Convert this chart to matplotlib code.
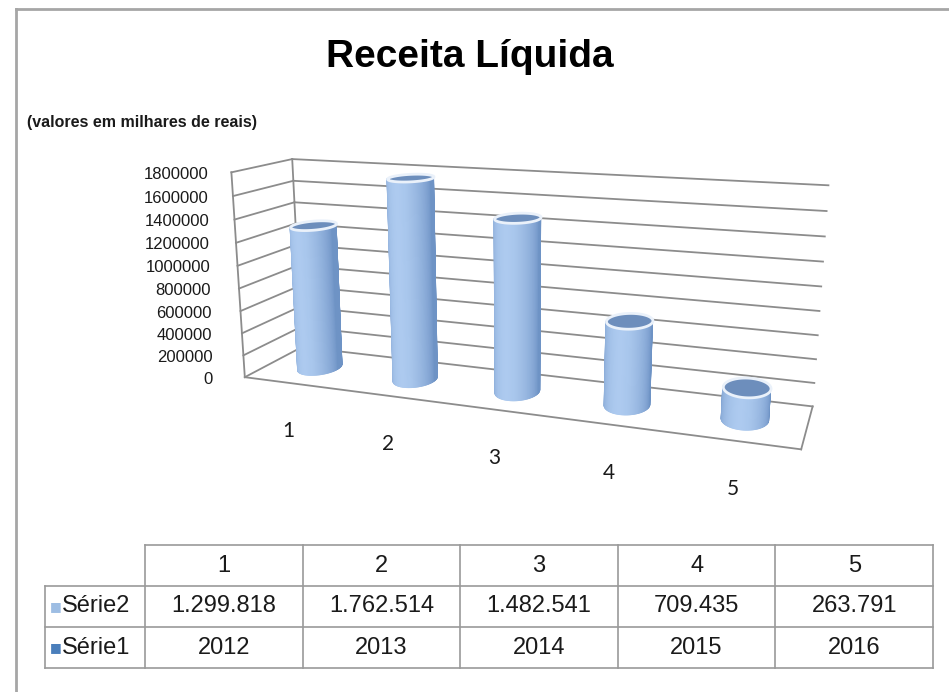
import numpy as np
import matplotlib
matplotlib.use("Agg")
import matplotlib.pyplot as plt
from matplotlib import font_manager
from matplotlib.lines import Line2D
from matplotlib.colors import to_rgb
from mpl_toolkits.mplot3d.art3d import Poly3DCollection
from mpl_toolkits.mplot3d import proj3d

# ---------------- data ----------------
categories = ["1", "2", "3", "4", "5"]
serie2 = [1299818, 1762514, 1482541, 709435, 263791]
serie1 = [2012, 2013, 2014, 2015, 2016]
yticks = [0, 200000, 400000, 600000, 800000, 1000000, 1200000, 1400000, 1600000, 1800000]
title = "Receita Líquida"
subtitle = "(valores em milhares de reais)"

# ---------------- fonts ----------------
names = {f.name for f in font_manager.fontManager.ttflist}
SANS = "Liberation Sans" if "Liberation Sans" in names else "DejaVu Sans"
NARROW = "Liberation Sans Narrow" if "Liberation Sans Narrow" in names else SANS
CAT = "Lato" if "Lato" in names else SANS

W, H = 949, 692
fig = plt.figure(figsize=(W / 100, H / 100), dpi=100)
fig.patch.set_facecolor("white")

# outer frame (left and top edges visible)
frame_c = "#a6a6a6"
fig.add_artist(Line2D([16 / W, 16 / W], [0, 1 - 9 / H], transform=fig.transFigure, color=frame_c, lw=2))
fig.add_artist(Line2D([16 / W, 1], [1 - 9 / H, 1 - 9 / H], transform=fig.transFigure, color=frame_c, lw=2))

fig.text(470 / W, 1 - 67 / H, title, ha="center", va="baseline", fontsize=28,
         fontweight="bold", family=SANS, color="black")
fig.text(27 / W, 1 - 122 / H, subtitle, ha="left", va="center", fontsize=11.5,
         fontweight="bold", family=SANS, color="#1a1a1a")

# ---------------- 3D chart ----------------
S = 700
CX, CY = 508, 297
ax = fig.add_axes([(CX - S / 2) / W, 1 - (CY + S / 2) / H, S / W, S / H], projection="3d")
ax.patch.set_facecolor("none")
ax.set_proj_type("persp", focal_length=0.28)
ELEV, AZIM = 14, -70
ax.view_init(elev=ELEV, azim=AZIM, roll=0)
n = len(categories)
zmax = yticks[-1]
ax.set_xlim(0.5, n + 0.5)
ax.set_ylim(0, 1)
ax.set_zlim(0, zmax)
ax.set_box_aspect((n, 1, 1.9), zoom=0.87)
ax.set_axis_off()
ax.computed_zorder = False

grid_c = "#8c8c8c"
glw = 1.3
x0, x1 = 0.5, n + 0.5
for z in yticks:
    ax.plot([x0, x1], [1, 1], [z, z], color=grid_c, lw=glw, zorder=1)  # back wall
    ax.plot([x0, x0], [0, 1], [z, z], color=grid_c, lw=glw, zorder=1)  # left wall
ax.plot([x0, x0], [1, 1], [0, zmax], color=grid_c, lw=glw, zorder=1)
ax.plot([x0, x0], [0, 0], [0, zmax], color=grid_c, lw=glw, zorder=1)
ax.plot([x0, x1], [0, 0], [0, 0], color=grid_c, lw=glw, zorder=1)
ax.plot([x1, x1], [0, 1], [0, 0], color=grid_c, lw=glw, zorder=1)

M = ax.get_proj()


def proj2d(x, y, z):
    xp, yp, _ = proj3d.proj_transform(np.asarray(x, float), np.asarray(y, float),
                                      np.asarray(z, float), M)
    return xp, yp


# cylinders (only faces turned towards the camera are drawn)
rx, ry = 0.19, 0.25
theta = np.linspace(0, 2 * np.pi, 145)
a = np.deg2rad(AZIM)
d = np.array([np.cos(a), np.sin(a)])
left = np.array([np.sin(a), -np.cos(a)])
light = d + 0.4 * left
light /= np.linalg.norm(light)
dark_c = np.array(to_rgb("#6389be"))
light_c = np.array(to_rgb("#adcaef"))
tm = 0.5 * (theta[:-1] + theta[1:])
nx, ny = np.cos(tm) / rx, np.sin(tm) / ry
nn = np.hypot(nx, ny)
nx, ny = nx / nn, ny / nn
b = np.clip(nx * light[0] + ny * light[1], 0, 1)
b = 0.15 + 0.85 * b ** 0.75
face = dark_c + (light_c - dark_c) * b[:, None]
kref = int(np.argmax(nx * d[0] + ny * d[1]))
for i, v in enumerate(serie2):
    xc, yc = i + 1, 0.5
    cx = xc + rx * np.cos(theta)
    cy = yc + ry * np.sin(theta)
    areas = []
    for k in range(theta.size - 1):
        qx, qy = proj2d([cx[k], cx[k + 1], cx[k + 1], cx[k]],
                        [cy[k], cy[k + 1], cy[k + 1], cy[k]], [0, 0, v, v])
        areas.append(0.5 * np.sum(qx * np.roll(qy, -1) - np.roll(qx, -1) * qy))
    areas = np.array(areas)
    sgn = np.sign(areas[kref])
    quads, cols = [], []
    for k in range(theta.size - 1):
        if areas[k] * sgn > 0:
            quads.append([(cx[k], cy[k], 0), (cx[k + 1], cy[k + 1], 0),
                          (cx[k + 1], cy[k + 1], v), (cx[k], cy[k], v)])
            cols.append(tuple(face[k]) + (1.0,))
    side = Poly3DCollection(quads, facecolors=cols, edgecolors=cols, linewidths=0.8, zorder=3)
    ax.add_collection3d(side)
    cap = [list(zip(cx, cy, np.full(theta.size, v)))]
    ax.add_collection3d(Poly3DCollection(cap, facecolor="#6d8ebc", edgecolor="#eaf1fa",
                                         linewidth=2.0, zorder=4))

# labels placed in 2D at the projected positions
fig.canvas.draw()
M = ax.get_proj()


def to_fig(x, y, z):
    xp, yp = proj2d(x, y, z)
    px, py = ax.transData.transform((float(xp), float(yp)))
    return fig.transFigure.inverted().transform((px, py))


for z in yticks:
    fx, fy = to_fig(x0, 0, z)
    gap = 23 + 9 * (1 - z / zmax)
    fig.text(fx - gap / W, fy - 2 / H, f"{z}", ha="right", va="center", fontsize=12,
             family=SANS, color="#1a1a1a")
for i, c in enumerate(categories):
    fx, fy = to_fig(i + 1, 0.0, 0)
    fig.text(fx - 3 / W, fy - 48 / H, c, ha="center", va="center", fontsize=15,
             family=CAT, color="#1a1a1a")

# ---------------- data table ----------------
tax = fig.add_axes([45 / W, 1 - 668 / H, (933 - 45) / W, (668 - 545) / H])
col_w = [100] + [157.6] * n
edges = np.concatenate([[0], np.cumsum(col_w)])
tax.set_xlim(0, edges[-1])
tax.set_ylim(0, 3)
tax.set_axis_off()
tc = "#9a9a9a"
tlw = 1.2
tax.plot([edges[1], edges[-1]], [3, 3], color=tc, lw=tlw, clip_on=False)
for yy in (0, 1, 2):
    tax.plot([edges[0], edges[-1]], [yy, yy], color=tc, lw=tlw, clip_on=False)
tax.plot([edges[0], edges[0]], [0, 2], color=tc, lw=tlw, clip_on=False)
for e in edges[1:]:
    tax.plot([e, e], [0, 3], color=tc, lw=tlw, clip_on=False)

rows = [
    ("Série2", "#9dbde3", [f"{v:,}".replace(",", ".") for v in serie2]),
    ("Série1", "#4a7ebb", [str(v) for v in serie1]),
]
tfs = 17
for j, c in enumerate(categories):
    xc = 0.5 * (edges[j + 1] + edges[j + 2])
    tax.text(xc, 2.5, c, ha="center", va="center", fontsize=tfs, family=NARROW, color="#1a1a1a")
for k, (lab, col, vals) in enumerate(rows):
    yy = 1.5 - k
    tax.text(5, yy, "■", ha="left", va="center", fontsize=9, family="DejaVu Sans", color=col)
    tax.text(17, yy, lab, ha="left", va="center", fontsize=tfs, family=NARROW, color="#1a1a1a")
    for j, s in enumerate(vals):
        xc = 0.5 * (edges[j + 1] + edges[j + 2])
        tax.text(xc, yy, s, ha="center", va="center", fontsize=tfs, family=NARROW, color="#1a1a1a")

fig.savefig("out.png", dpi=100, facecolor="white")
